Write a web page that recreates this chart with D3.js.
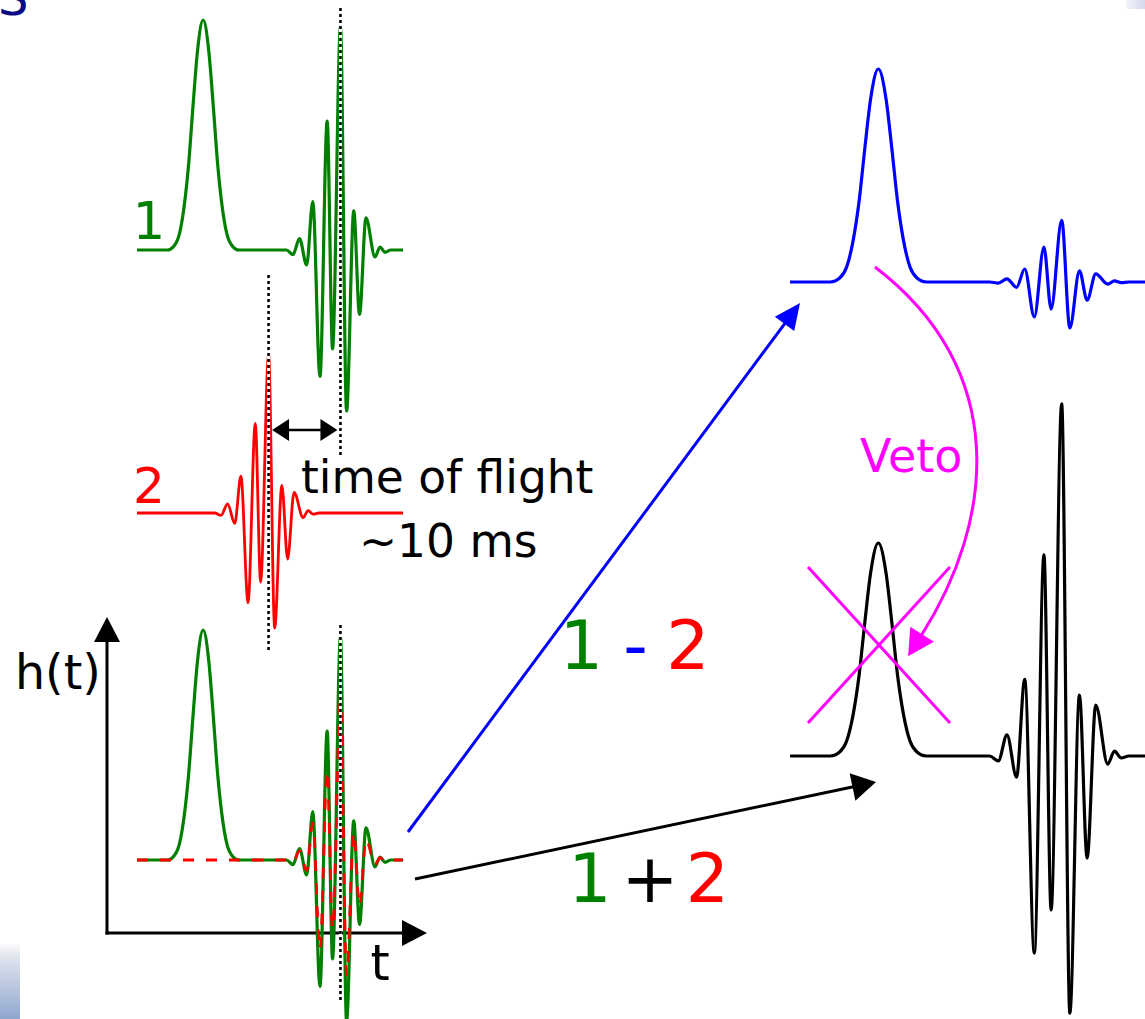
<!DOCTYPE html>
<html><head><meta charset="utf-8">
<script src="https://cdn.jsdelivr.net/npm/d3@7"></script>
<style>html,body{margin:0;padding:0;background:#fff;overflow:hidden}</style>
</head><body>
<svg id="c" width="1145" height="1019"></svg>
<script>
// ---------------- data (time in ms, amplitude in units of the glitch height) ----------------
const glitchOffsets = [-5, -4, -3.3, -2.6, -2, -1.4, -0.8, 0, 0.8, 1.4, 2, 2.6, 3.3, 4, 5];
const glitchShape   = [0, 0.02, 0.07, 0.2, 0.38, 0.63, 0.86, 1, 0.86, 0.63, 0.38, 0.2, 0.07, 0.02, 0];
const chirpOffsets  = [-7.5, -6.6, -5.7, -4.7, -3.85, -2.85, -1.85, -1.1, 0, 0.85, 1.85, 2.65, 3.55, 4.8, 5.5, 6.2, 7];
const det1Chirp = [0, -0.02, 0.05, -0.065, 0.21, -0.55, 0.56, -0.43, 0.97, -0.70, 0.17, -0.28, 0.14, -0.03, 0.013, -0.01, 0];
const det2Chirp = [0, -0.01, 0.04, -0.045, 0.16, -0.39, 0.39, -0.30, 0.69, -0.50, 0.12, -0.20, 0.09, -0.02, 0.01, -0.005, 0];
const diffChirp = [0, -0.005, 0.015, -0.025, 0.061, -0.164, 0.164, -0.127, 0.29, -0.216, 0.052, -0.085, 0.038, -0.01, 0.005, -0.003, 0];
const sumChirp  = [0, -0.023, 0.099, -0.099, 0.36, -0.925, 0.944, -0.723, 1.653, -1.207, 0.286, -0.479, 0.239, -0.038, 0.023, -0.009, 0];
const glitchTime = 9.2;      // ms
const mergerTime = 28.3;     // ms, at detector 1
const timeOfFlight = 10;     // ms
const timeSpan = [0, 37];    // ms shown in each trace
const detectorLabels = ["1", "2"];
const flightLabels = ["time of flight", "~10 ms"];
const comboLabels = ["1 - 2", "1 + 2"];
const vetoLabel = "Veto";
const axisLabels = ["h(t)", "t"];

// ---------------- helpers ----------------
const svg = d3.select("#c");
const FONT = "DejaVu Sans, Verdana, sans-serif";
const GREEN = "#008000", RED = "#ff0000", BLUE = "#0000ff", MAG = "#ff00ff";

function series(glitchAmp, chirp, tMerge) {
  const pts = [{t: timeSpan[0], v: 0}];
  if (glitchAmp) glitchOffsets.forEach((o, i) => pts.push({t: glitchTime + o, v: glitchAmp * glitchShape[i]}));
  chirpOffsets.forEach((o, i) => pts.push({t: tMerge + o, v: chirp[i]}));
  pts.push({t: timeSpan[1], v: 0});
  return pts.sort((a, b) => a.t - b.t);
}
function drawWave(pts, x, y, color, width, dash) {
  const line = d3.line().x(d => x(d.t)).y(d => y(d.v)).curve(d3.curveMonotoneX);
  const p = svg.append("path").attr("d", line(pts)).attr("fill", "none")
    .attr("stroke", color).attr("stroke-width", width)
    .attr("stroke-linejoin", "round");
  if (dash) p.attr("stroke-dasharray", dash);
  return p;
}
function dotted(x, y1, y2) {
  svg.append("line").attr("x1", x).attr("x2", x).attr("y1", y1).attr("y2", y2)
    .attr("stroke", "#fff").attr("stroke-width", 3);
  svg.append("line").attr("x1", x).attr("x2", x).attr("y1", y1).attr("y2", y2)
    .attr("stroke", "#000").attr("stroke-width", 2.6).attr("stroke-dasharray", "3,3");
}
function arrow(from, tip, color, L, W, width) {
  const dx = tip[0] - from[0], dy = tip[1] - from[1], n = Math.hypot(dx, dy);
  const ux = dx / n, uy = dy / n;
  const bx = tip[0] - L * ux, by = tip[1] - L * uy;
  svg.append("line").attr("x1", from[0]).attr("y1", from[1]).attr("x2", bx + ux).attr("y2", by + uy)
    .attr("stroke", color).attr("stroke-width", width);
  head(tip, [ux, uy], color, L, W);
}
function head(tip, u, color, L, W) {
  const bx = tip[0] - L * u[0], by = tip[1] - L * u[1];
  const px = -u[1], py = u[0];
  svg.append("polygon").attr("fill", color)
    .attr("points", [[tip[0], tip[1]], [bx + W * px, by + W * py], [bx - W * px, by - W * py]].map(p => p.join(",")).join(" "));
}
function label(txt, x, y, size, color, anchor) {
  return svg.append("text").attr("x", x).attr("y", y).text(txt)
    .attr("font-family", FONT).attr("font-size", size).attr("fill", color)
    .attr("text-anchor", anchor || "start");
}

// ---------------- decorations from the slide ----------------
const defs = svg.append("defs");
const g1 = defs.append("linearGradient").attr("id", "blGrad").attr("x1", 0).attr("x2", 0).attr("y1", 0).attr("y2", 1);
g1.append("stop").attr("offset", "0").attr("stop-color", "#fbfbfb");
g1.append("stop").attr("offset", "0.2").attr("stop-color", "#dde2ec");
g1.append("stop").attr("offset", "1").attr("stop-color", "#8fa6cf");
svg.append("rect").attr("x", 0).attr("y", 944).attr("width", 20).attr("height", 75).attr("fill", "url(#blGrad)");
const g2 = defs.append("linearGradient").attr("id", "trGrad").attr("x1", 0).attr("x2", 1).attr("y1", 0).attr("y2", 0);
g2.append("stop").attr("offset", "0").attr("stop-color", "#f4f4fa");
g2.append("stop").attr("offset", "1").attr("stop-color", "#d4d8ec");
svg.append("rect").attr("x", 1126).attr("y", 0).attr("width", 19).attr("height", 9).attr("fill", "url(#trGrad)");
label("S", -2, 15, 48, "#0b0b86");

// ---------------- scales ----------------
const xL = d3.scaleLinear().domain(timeSpan).range([137, 403]);
const xR = d3.scaleLinear().domain(timeSpan).range([790, 790 + 37 * 9.6]);
const y1 = d3.scaleLinear().domain([0, 1]).range([250, 20]);
const y2 = d3.scaleLinear().domain([0, 1]).range([513, 283]);
const y3 = d3.scaleLinear().domain([0, 1]).range([860, 630]);
const yB = d3.scaleLinear().domain([0, 1]).range([282, 69]);
const yK = d3.scaleLinear().domain([0, 1]).range([756, 543]);

const wave1 = series(1, det1Chirp, mergerTime);
const wave2 = series(0, det2Chirp, mergerTime - timeOfFlight);
const wave2shift = series(0, det2Chirp, mergerTime);
const waveDiff = series(1, diffChirp, mergerTime);
const waveSum = series(1, sumChirp, mergerTime);

// ---------------- detector 1 ----------------
drawWave(wave1, xL, y1, GREEN, 3.2);
label(detectorLabels[0], 149, 239, 51, GREEN, "middle");

// ---------------- detector 2 ----------------
drawWave(wave2, xL, y2, RED, 2.8);
label(detectorLabels[1], 149, 503, 50, RED, "middle");

dotted(xL(mergerTime), 8, 458);
dotted(xL(mergerTime - timeOfFlight), 275, 652);

// time of flight double arrow
(function () {
  const a = xL(mergerTime - timeOfFlight) + 3.5, b = xL(mergerTime) - 3, yy = 430, L = 17, W = 11;
  svg.append("line").attr("x1", a + L - 1).attr("x2", b - L + 1).attr("y1", yy).attr("y2", yy)
    .attr("stroke", "#000").attr("stroke-width", 2.6);
  head([a, yy], [-1, 0], "#000", L, W);
  head([b, yy], [1, 0], "#000", L, W);
})();
label(flightLabels[0], 301, 493, 45.5, "#000");
label(flightLabels[1], 359, 557, 45.5, "#000");

// ---------------- combined panel with axes ----------------
svg.append("line").attr("x1", 107).attr("x2", 107).attr("y1", 934.5).attr("y2", 640)
  .attr("stroke", "#000").attr("stroke-width", 3);
head([107, 617], [0, -1], "#000", 25, 13);
svg.append("line").attr("x1", 105.5).attr("x2", 404).attr("y1", 933).attr("y2", 933)
  .attr("stroke", "#000").attr("stroke-width", 3);
head([427, 933], [1, 0], "#000", 25, 13);
label(axisLabels[0], 15, 689, 47.5, "#000");
label(axisLabels[1], 380, 980, 49, "#000", "middle");

drawWave(wave1, xL, y3, GREEN, 3.2);
drawWave(wave2shift, xL, y3, RED, 2.8, "11,12");
dotted(xL(mergerTime), 625, 1003);

// ---------------- arrows to the combinations ----------------
arrow([408, 832], [800, 303], BLUE, 26, 12, 3);
arrow([415, 879], [876, 782], "#000", 24, 14, 3);

// labels 1 - 2 and 1 + 2
const parts12 = comboLabels[0].split(" ");
label(parts12[0], 581.5, 669, 68, GREEN, "middle");
label(parts12[1], 635.5, 669, 68, BLUE, "middle");
label(parts12[2], 688, 669, 68, RED, "middle");
const partsSum = comboLabels[1].split(" ");
label(partsSum[0], 590, 902, 68, GREEN, "middle");
label(partsSum[1], 650, 902, 68, "#000", "middle");
label(partsSum[2], 707.5, 902, 68, RED, "middle");

// ---------------- right side traces ----------------
drawWave(waveDiff, xR, yB, BLUE, 3.2);
drawWave(waveSum, xR, yK, "#000", 3.2);

// veto arc
svg.append("path").attr("d", "M875,267 C1010,370 995,520 921,636")
  .attr("fill", "none").attr("stroke", MAG).attr("stroke-width", 3);
(function () {
  const dx = 921 - 995, dy = 636 - 520, n = Math.hypot(dx, dy);
  const u = [dx / n, dy / n];
  head([921 + 24 * u[0], 636 + 24 * u[1]], u, MAG, 26, 14);
})();
label(vetoLabel, 860, 472, 46, MAG);

// cross over the glitch
svg.append("line").attr("x1", 808).attr("y1", 567).attr("x2", 950).attr("y2", 723)
  .attr("stroke", MAG).attr("stroke-width", 3);
svg.append("line").attr("x1", 950).attr("y1", 567).attr("x2", 808).attr("y2", 723)
  .attr("stroke", MAG).attr("stroke-width", 3);
</script>
</body></html>
